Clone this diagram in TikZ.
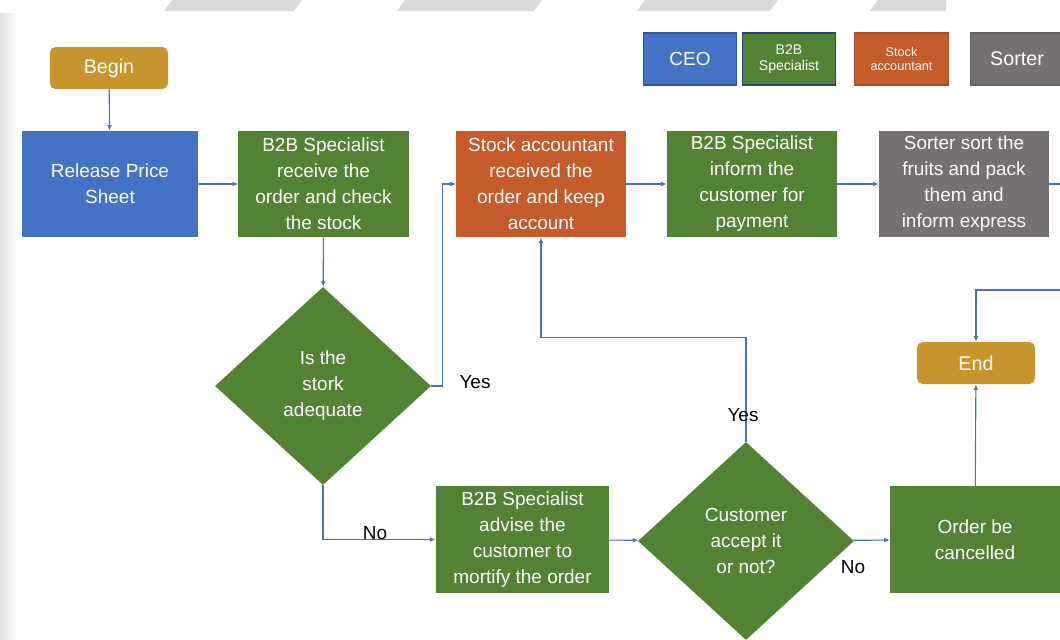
\documentclass[tikz,border=0pt]{standalone}
\usepackage{fontspec}
\setmainfont{Liberation Sans}
\usepackage{xcolor}
\usetikzlibrary{shapes.geometric, positioning, arrows.meta}
\definecolor{CeoBlue}{HTML}{4472C4}
\definecolor{SpecGreen}{HTML}{548235}
\definecolor{StockOrange}{HTML}{C55A2B}
\definecolor{SorterGrey}{HTML}{767171}
\definecolor{TermGold}{HTML}{C7952E}
\definecolor{LineBlue}{HTML}{4472C4}
\definecolor{StripeGrey}{HTML}{D9D9D9}

\begin{document}
\begin{tikzpicture}[
    x=0.025cm, y=-0.025cm,
    box/.style={
      rectangle, minimum width=4.25cm, minimum height=2.65cm,
      align=center, inner sep=1pt, text=white,
      font=\fontsize{13.5}{18.5}\selectfont
    },
    term/.style={
      rectangle, rounded corners=4pt, fill=TermGold,
      minimum width=2.95cm, minimum height=1.05cm,
      text=white, font=\fontsize{14}{16}\selectfont
    },
    decision/.style={
      diamond, fill=SpecGreen, minimum width=5.4cm, minimum height=4.95cm,
      inner sep=0pt, align=center, text=white,
      font=\fontsize{13.5}{18.5}\selectfont
    },
    legend/.style={
      rectangle, minimum width=2.33cm, minimum height=1.3cm,
      align=center, text=white, line width=0.8pt
    },
    flow/.style={LineBlue, line width=0.8pt, -{Latex[length=4pt,width=3.5pt]}},
    lbl/.style={text=black, font=\fontsize{13.5}{16}\selectfont}
  ]
    \useasboundingbox (0,0) rectangle (1060,639);

    %% Page decoration
    \shade[left color=gray!25, right color=white] (0,13) rectangle (17,639);
    \fill[StripeGrey] (172,0) -- (302,0) -- (294,11) -- (164,11) -- cycle;
    \fill[StripeGrey] (405,0) -- (542,0) -- (534,11) -- (397,11) -- cycle;
    \fill[StripeGrey] (645,0) -- (778,0) -- (770,11) -- (637,11) -- cycle;
    \fill[StripeGrey] (878,0) -- (946,0) -- (946,11) -- (870,11) -- cycle;

    %% Legend
    \node[legend, fill=CeoBlue, draw=CeoBlue!75!black, font=\fontsize{13.5}{16}\selectfont] (lgceo) at (690,59) {CEO};
    \node[legend, fill=SpecGreen, draw=CeoBlue!60!black, font=\fontsize{10}{11.5}\selectfont] (lgspec) at (789,59) {B2B\\Specialist};
    \node[legend, fill=StockOrange, draw=StockOrange!85!black, font=\fontsize{9}{10.5}\selectfont] (lgacct) at (901.5,59) {Stock\\accountant};
    \node[legend, fill=SorterGrey, draw=SorterGrey!85!black, font=\fontsize{14}{16}\selectfont] (lgsort) at (1017,59) {Sorter};

    %% Top row
    \node[term] (begin) at (109,68) {Begin};
    \node[box, fill=CeoBlue, minimum width=4.4cm] (release) at (110,184) {Release Price\\Sheet};
    \node[box, fill=SpecGreen] (receive) at (323.5,184) {B2B Specialist\\receive the\\order and check\\the stock};
    \node[box, fill=StockOrange] (stock) at (541,184) {Stock accountant\\received the\\order and keep\\account};
    \node[box, fill=SpecGreen] (inform) at (752,184) {B2B Specialist\\inform the\\customer for\\payment};
    \node[box, fill=SorterGrey] (sorter) at (964,184) {Sorter sort the\\fruits and pack\\them and\\inform express};

    %% Decisions and bottom row
    \node[decision] (adequate) at (323,386) {Is the\\stork\\adequate};
    \node[box, fill=SpecGreen, minimum width=4.33cm] (advise) at (522.5,539.5) {B2B Specialist\\advise the\\customer to\\mortify the order};
    \node[decision] (accept) at (746,541) {Customer\\accept it\\or not?};
    \node[box, fill=SpecGreen] (cancel) at (975,539.5) {Order be\\cancelled};
    \node[term] (end) at (976,363) {End};

    %% Free ends at the right edge
    \coordinate (outR) at (1062,184);
    \coordinate (inR) at (1062,290);

    %% Draw arrows
    \draw[flow] (begin) -- (release);
    \draw[flow] (release) -- (receive);
    \draw[flow] (receive) -- (adequate);
    \draw[flow] (adequate.east) -- ++(11,0) |- (stock.west);
    \draw[flow] (adequate.south) |- (advise.west);
    \draw[flow] (advise) -- (accept);
    \draw[flow] (accept.north) -- ++(0,-104) -| (stock.south);
    \draw[flow] (accept) -- (cancel);
    \draw[flow] (stock) -- (inform);
    \draw[flow] (inform) -- (sorter);
    \draw[LineBlue, line width=0.8pt] (sorter.east) -- (outR);
    \draw[flow] (inR) -| (end.north);
    \draw[flow] (cancel) -- (end);

    %% Branch labels
    \node[lbl] (yes1) at (475,382) {Yes};
    \node[lbl] (no1) at (375,533) {No};
    \node[lbl] (yes2) at (743,415) {Yes};
    \node[lbl] (no2) at (853,567) {No};
  \end{tikzpicture}
\end{document}
